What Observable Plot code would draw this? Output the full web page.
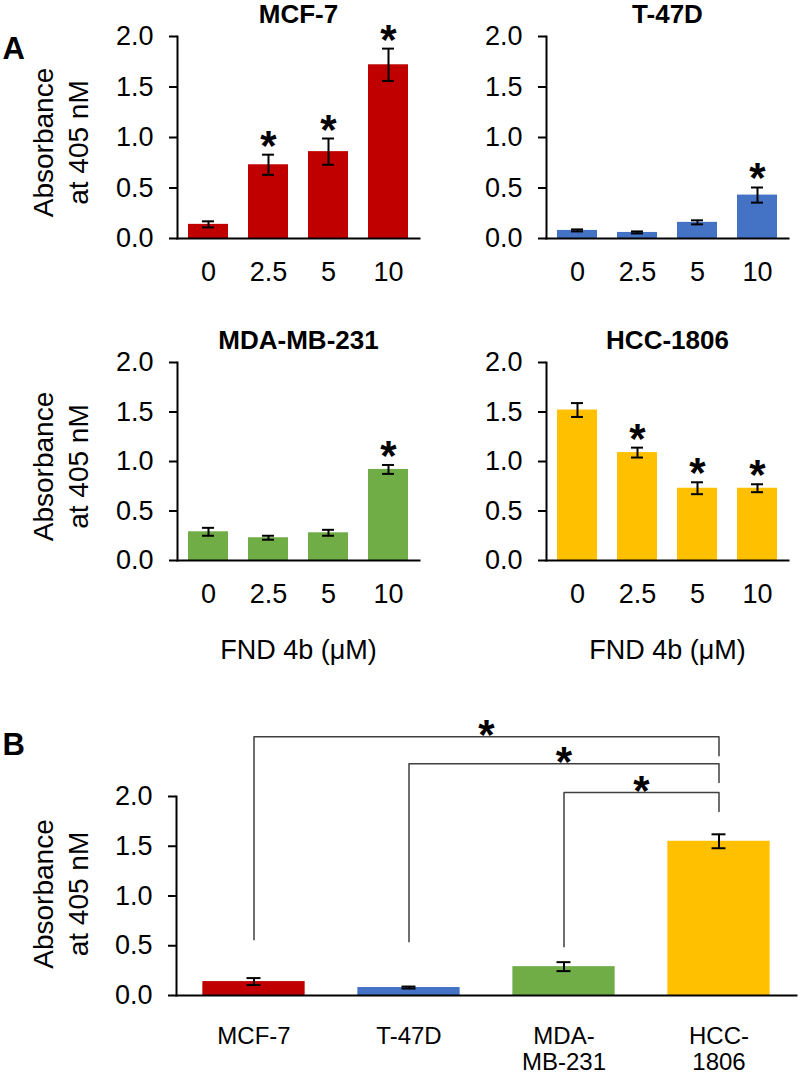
<!DOCTYPE html>
<html>
<head>
<meta charset="utf-8">
<script src="https://cdn.jsdelivr.net/npm/d3@7"></script>
<script src="https://cdn.jsdelivr.net/npm/@observablehq/plot@0.6"></script>
<style>
  html, body { margin: 0; padding: 0; background: #fff; }
  #root { position: relative; width: 800px; height: 1075px; overflow: hidden; background: #fff; }
  .panel { position: absolute; }
  .panel svg { overflow: visible; }
</style>
</head>
<body>
<div id="root"></div>
<script>
// ---------- data ----------
const doses = ["0", "2.5", "5", "10"];
const xAxisLabel = "FND 4b (μM)";
const yAxisLabel = "Absorbance\nat 405 nM";
const yTicks = [0, 0.5, 1.0, 1.5, 2.0];

const mcf7Mean = [0.14, 0.73, 0.86, 1.72];
const mcf7Err  = [0.03, 0.10, 0.13, 0.16];
const mcf7Sig  = [false, true, true, true];

const t47dMean = [0.08, 0.06, 0.16, 0.43];
const t47dErr  = [0.01, 0.01, 0.02, 0.075];
const t47dSig  = [false, false, false, true];

const mdaMean = [0.29, 0.23, 0.28, 0.92];
const mdaErr  = [0.04, 0.02, 0.03, 0.045];
const mdaSig  = [false, false, false, true];

const hccMean = [1.52, 1.09, 0.73, 0.73];
const hccErr  = [0.07, 0.05, 0.06, 0.04];
const hccSig  = [false, true, true, true];

const cellLines = ["MCF-7", "T-47D", "MDA-MB-231", "HCC-1806"];
const cellLineTickLabels = ["MCF-7", "T-47D", "MDA-\nMB-231", "HCC-\n1806"];
const cellColors = ["#C00000", "#4472C4", "#70AD47", "#FFC000"];
const baseMean = [0.14, 0.08, 0.29, 1.55];
const baseErr  = [0.035, 0.01, 0.045, 0.07];

// significance brackets (panel B): from each line to HCC-1806
const compFrom     = [0, 1, 2];
const compTo       = [3, 3, 3];
const compTop      = [2.60, 2.33, 2.04];
const compLeftEnd  = [0.56, 0.54, 0.49];
const compRightEnd = [2.41, 2.14, 1.85];

// ---------- helpers ----------
const FONT = "'Liberation Sans', Arial, Helvetica, sans-serif";
const root = document.getElementById("root");

function place(node, left, top) {
  const d = document.createElement("div");
  d.className = "panel";
  d.style.left = left + "px";
  d.style.top = top + "px";
  d.appendChild(node);
  root.appendChild(d);
}

function doseChart({title, mean, err, sig, color, height, marginTop, marginBottom, titleY, yLabel, letter, xLabel}) {
  const data = doses.map((d, i) => ({dose: d, mean: mean[i], err: err[i], sig: sig[i]}));
  const marks = [
    Plot.barY(data, {x: "dose", y: "mean", fill: color}),
    Plot.ruleX(data, {x: "dose", y1: d => d.mean - d.err, y2: d => d.mean + d.err, stroke: "black", strokeWidth: 2}),
    Plot.tickY(data, {x: "dose", y: d => d.mean + d.err, stroke: "black", strokeWidth: 2, insetLeft: 14, insetRight: 14}),
    Plot.tickY(data, {x: "dose", y: d => d.mean - d.err, stroke: "black", strokeWidth: 2, insetLeft: 14, insetRight: 14}),
    Plot.text(data.filter(d => d.sig), {x: "dose", y: d => d.mean + d.err, text: () => "*", fontWeight: "bold", fontSize: 42, lineAnchor: "bottom", dy: 5, fill: "black"}),
    Plot.frame({anchor: "left", stroke: "black", strokeWidth: 2}),
    Plot.frame({anchor: "bottom", stroke: "black", strokeWidth: 2}),
    Plot.axisY({ticks: yTicks, tickFormat: d => d.toFixed(1), tickSize: 8, tickPadding: 16, fontSize: 27, strokeWidth: 2, label: null}),
    Plot.axisX({tickSize: 0, tickPadding: 23, fontSize: 27, label: null}),
    Plot.text([title], {frameAnchor: "top", dy: titleY - marginTop, fontWeight: "bold", fontSize: 26, lineAnchor: "middle", textAnchor: "middle", fill: "black"})
  ];
  if (yLabel) marks.push(Plot.text([yAxisLabel], {frameAnchor: "left", rotate: -90, dx: -118, dy: 5, fontSize: 28, lineHeight: 1.25, lineAnchor: "middle", textAnchor: "middle", fill: "black"}));
  if (letter) marks.push(Plot.text([letter], {frameAnchor: "top-left", dx: -175, dy: 13, textAnchor: "start", fontWeight: "bold", fontSize: 31, lineAnchor: "middle", fill: "black"}));
  if (xLabel) marks.push(Plot.text([xAxisLabel], {frameAnchor: "bottom", dy: 90, fontSize: 27, lineAnchor: "middle", textAnchor: "middle", fill: "black"}));
  return Plot.plot({
    width: 431,
    height,
    marginLeft: 177,
    marginRight: 12,
    marginTop,
    marginBottom,
    x: {domain: doses, paddingInner: 0.34, paddingOuter: 0.17, align: 0.5},
    y: {domain: [0, 2]},
    style: {fontFamily: FONT, fontSize: "27px", color: "black", background: "transparent", overflow: "visible"},
    marks
  });
}

// ---------- panel A ----------
place(doseChart({title: "MCF-7", mean: mcf7Mean, err: mcf7Err, sig: mcf7Sig, color: cellColors[0], height: 290, marginTop: 36, marginBottom: 52, titleY: 14, yLabel: true, letter: "A"}), 0, 0);
place(doseChart({title: "T-47D", mean: t47dMean, err: t47dErr, sig: t47dSig, color: cellColors[1], height: 290, marginTop: 36, marginBottom: 52, titleY: 14}), 369, 0);
place(doseChart({title: "MDA-MB-231", mean: mdaMean, err: mdaErr, sig: mdaSig, color: cellColors[2], height: 400, marginTop: 72, marginBottom: 130, titleY: 50, yLabel: true, xLabel: true}), 0, 290);
place(doseChart({title: "HCC-1806", mean: hccMean, err: hccErr, sig: hccSig, color: cellColors[3], height: 400, marginTop: 72, marginBottom: 130, titleY: 50, xLabel: true}), 369, 290);

// ---------- panel B ----------
const baseData = cellLines.map((c, i) => ({i, line: c, mean: baseMean[i], err: baseErr[i], color: cellColors[i]}));
const bracketPts = [];
compFrom.forEach((f, k) => {
  const t = compTo[k];
  bracketPts.push({k, x: f, y: compLeftEnd[k]}, {k, x: f, y: compTop[k]}, {k, x: t, y: compTop[k]}, {k, x: t, y: compRightEnd[k]});
});
const starData = compFrom.map((f, k) => ({x: (f + compTo[k]) / 2, y: compTop[k]}));

const panelB = Plot.plot({
  width: 800,
  height: 385,
  marginLeft: 176,
  marginRight: 4,
  marginTop: 106,
  marginBottom: 80,
  x: {domain: [-0.5, cellLines.length - 0.5]},
  y: {domain: [0, 2]},
  color: {type: "identity"},
  style: {fontFamily: FONT, fontSize: "27px", color: "black", background: "transparent", overflow: "visible"},
  marks: [
    Plot.rectY(baseData, {x1: d => d.i - 0.33, x2: d => d.i + 0.33, y1: 0, y2: "mean", fill: "color"}),
    Plot.ruleX(baseData, {x: "i", y1: d => d.mean - d.err, y2: d => d.mean + d.err, stroke: "black", strokeWidth: 2}),
    Plot.ruleY(baseData, {y: d => d.mean + d.err, x1: d => d.i - 0.045, x2: d => d.i + 0.045, stroke: "black", strokeWidth: 2}),
    Plot.ruleY(baseData, {y: d => d.mean - d.err, x1: d => d.i - 0.045, x2: d => d.i + 0.045, stroke: "black", strokeWidth: 2}),
    Plot.line(bracketPts, {x: "x", y: "y", z: "k", stroke: "#404040", strokeWidth: 1.5, curve: "linear"}),
    Plot.text(starData, {x: "x", y: "y", text: () => "*", fontWeight: "bold", fontSize: 42, lineAnchor: "bottom", dy: 12, fill: "black"}),
    Plot.frame({anchor: "left", stroke: "black", strokeWidth: 2}),
    Plot.frame({anchor: "bottom", stroke: "black", strokeWidth: 2}),
    Plot.axisY({ticks: yTicks, tickFormat: d => d.toFixed(1), tickSize: 8, tickPadding: 16, fontSize: 27, strokeWidth: 2, label: null}),
    Plot.axisX({ticks: cellLines.map((c, i) => i), tickFormat: i => cellLineTickLabels[i], tickSize: 0, tickPadding: 29, fontSize: 24, lineHeight: 1.12, label: null}),
    Plot.text([yAxisLabel], {frameAnchor: "left", rotate: -90, dx: -117, dy: -2, fontSize: 28, lineHeight: 1.25, lineAnchor: "middle", textAnchor: "middle", fill: "black"}),
    Plot.text(["B"], {frameAnchor: "top-left", dx: -174, dy: -51, textAnchor: "start", fontWeight: "bold", fontSize: 31, lineAnchor: "middle", fill: "black"})
  ]
});
place(panelB, 0, 690);
</script>
</body>
</html>
